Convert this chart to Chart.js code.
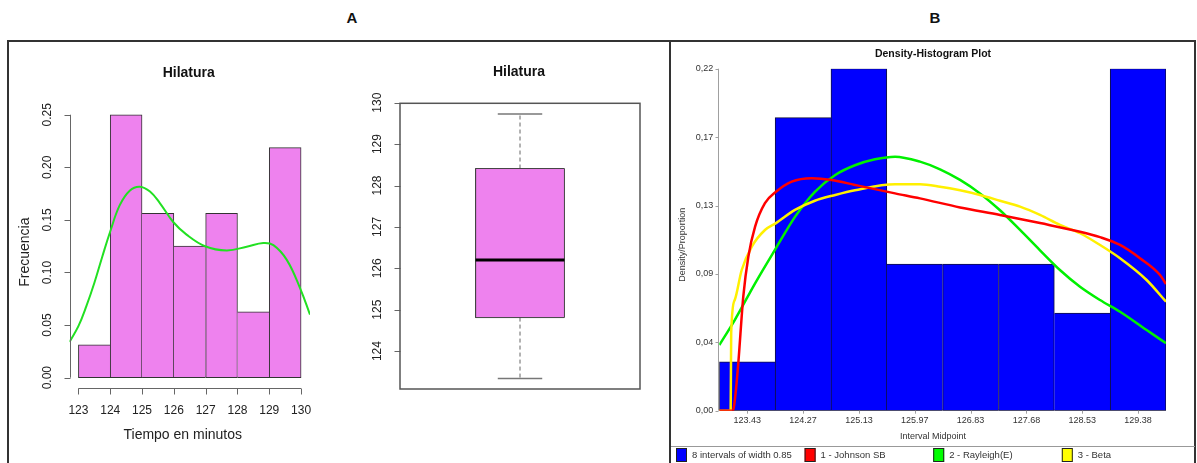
<!DOCTYPE html>
<html>
<head>
<meta charset="utf-8">
<script src="https://cdn.jsdelivr.net/npm/chart.js@4.4.0/dist/chart.umd.min.js"></script>
<style>
  body { margin: 0; background: #fff; width: 1197px; height: 463px; overflow: hidden; position: relative; font-family: "Liberation Sans", Arial, sans-serif; }
  .lbl { position: absolute; top: 9px; width: 40px; text-align: center; font: bold 15px "Liberation Sans", Arial, sans-serif; color: #111; }
  #frame { position: absolute; left: 7px; top: 40px; width: 1189px; height: 440px; border: 2px solid #333; box-sizing: border-box; }
  #split { position: absolute; left: 669px; top: 40px; width: 2px; height: 430px; background: #333; }
  canvas { position: absolute; }
</style>
</head>
<body>
<div class="lbl" style="left:332px">A</div>
<div class="lbl" style="left:915px">B</div>
<div id="frame"></div>
<div id="split"></div>
<canvas id="hist" width="320" height="417" style="left:10px;top:43px"></canvas>
<canvas id="box" width="338" height="417" style="left:331px;top:43px"></canvas>
<canvas id="dens" width="524" height="420" style="left:671px;top:43px"></canvas>
<script>
// --- panel A, histogram ---
const histBreaks = [123, 124, 125, 126, 127, 128, 129, 130];
const histFreq = [0.03125, 0.25, 0.15625, 0.125, 0.15625, 0.0625, 0.21875];
const densX = [122.72, 123.0, 123.25, 123.5, 123.75, 124.0, 124.3, 124.62, 124.93, 125.25, 125.56, 125.98, 126.4, 126.98, 127.66, 128.29, 128.81, 129.13, 129.55, 129.97, 130.28];
const densY = [0.034, 0.049, 0.068, 0.09, 0.115, 0.139, 0.164, 0.178, 0.1816, 0.177, 0.166, 0.148, 0.136, 0.125, 0.121, 0.1245, 0.128, 0.126, 0.112, 0.085, 0.06];
const freqTicks = [0, 0.05, 0.10, 0.15, 0.20, 0.25];
const freqLabels = ['0.00', '0.05', '0.10', '0.15', '0.20', '0.25'];

// --- panel A, boxplot: min, q1, median, q3, max ---
const boxStats = [123.34, 124.81, 126.2, 128.41, 129.73];
const boxTicks = [124, 125, 126, 127, 128, 129, 130];

// --- panel B ---
const mids = [123.43, 124.28, 125.13, 125.98, 126.83, 127.68, 128.53, 129.38];
const midLabels = ['123.43', '124.27', '125.13', '125.97', '126.83', '127.68', '128.53', '129.38'];
const binWidth = 0.85;
const props = [0.03125, 0.1875, 0.21875, 0.09375, 0.09375, 0.09375, 0.0625, 0.21875];
const propTicks = [0, 0.04375, 0.0875, 0.13125, 0.175, 0.21875];
const propLabels = ['0,00', '0,04', '0,09', '0,13', '0,17', '0,22'];
const johnsonX = [123.005, 123.21, 123.25, 123.294, 123.37, 123.447, 123.55, 123.70, 123.868, 124.107, 124.41, 124.716, 125.07, 125.68, 126.06, 126.67, 127.278, 127.887, 128.496, 128.8, 129.105, 129.409, 129.714, 129.805];
const johnsonY = [0, 0, 0.01, 0.0303, 0.073, 0.0985, 0.1177, 0.1327, 0.140, 0.1465, 0.1487, 0.1476, 0.1444, 0.139, 0.1358, 0.130, 0.1252, 0.120, 0.1145, 0.111, 0.106, 0.0975, 0.0868, 0.081];
const rayleighX = [123.005, 123.24, 123.55, 123.868, 124.157, 124.46, 124.77, 125.07, 125.375, 125.68, 126.06, 126.365, 126.67, 126.973, 127.278, 127.583, 127.887, 128.19, 128.496, 128.8, 129.105, 129.51, 129.805];
const rayleighY = [0.042, 0.058, 0.0815, 0.104, 0.124, 0.140, 0.1508, 0.157, 0.1608, 0.1625, 0.1593, 0.1544, 0.1476, 0.139, 0.1282, 0.1156, 0.1026, 0.090, 0.0793, 0.0708, 0.0633, 0.0516, 0.0431];
const betaX = [123.005, 123.178, 123.186, 123.24, 123.346, 123.5, 123.70, 123.868, 124.157, 124.46, 124.77, 125.07, 125.68, 126.06, 126.365, 126.67, 126.973, 127.278, 127.583, 127.887, 128.19, 128.496, 128.8, 129.105, 129.51, 129.805];
const betaY = [0, 0, 0.0495, 0.0708, 0.090, 0.105, 0.1156, 0.120, 0.1284, 0.1343, 0.138, 0.141, 0.1448, 0.1448, 0.1433, 0.141, 0.138, 0.1343, 0.1305, 0.1252, 0.1188, 0.1135, 0.106, 0.0975, 0.0836, 0.0697];

const FONT = '"Liberation Sans", Arial, sans-serif';
const pts = (xs, ys) => xs.map((x, i) => ({x: x, y: ys[i]}));
// R pads each axis range by 4%
const rRange = (lo, hi) => [lo - 0.04 * (hi - lo), hi + 0.04 * (hi - lo)];

// only one border line between neighbouring bars
function histBorder(c) {
  const d = c.dataset.data, i = c.dataIndex, h = d[i].y;
  const prev = i > 0 ? d[i - 1].y : -1;
  const next = i < d.length - 1 ? d[i + 1].y : -1;
  return {top: 1, bottom: 1, left: prev <= h ? 1 : 0, right: next < h ? 1 : 0};
}

function vText(ctx, txt, x, y) {
  ctx.save();
  ctx.translate(x, y);
  ctx.rotate(-Math.PI / 2);
  ctx.fillText(txt, 0, 0);
  ctx.restore();
}

// axes drawn the way R base graphics does them
const rAxes = {
  id: 'rAxes',
  afterDatasetsDraw(chart, args, o) {
    const {ctx, chartArea: a, scales: {x, y}} = chart;
    ctx.save();
    ctx.strokeStyle = '#666';
    ctx.lineWidth = 1;
    ctx.fillStyle = '#222';
    ctx.textAlign = 'center';
    ctx.textBaseline = 'middle';
    ctx.font = '12px ' + FONT;

    const lx = Math.round(a.left) + 0.5;
    ctx.beginPath();
    if (!o.frame) {
      ctx.moveTo(lx, y.getPixelForValue(o.yTicks[0]));
      ctx.lineTo(lx, y.getPixelForValue(o.yTicks[o.yTicks.length - 1]));
    }
    o.yTicks.forEach(v => {
      const py = Math.round(y.getPixelForValue(v)) + 0.5;
      ctx.moveTo(lx, py);
      ctx.lineTo(lx - 6, py);
    });
    ctx.stroke();
    o.yTicks.forEach((v, i) => vText(ctx, o.yLabels[i], a.left - 22, y.getPixelForValue(v)));

    if (o.xTicks) {
      const by = Math.round(a.bottom) + 0.5;
      ctx.beginPath();
      ctx.moveTo(x.getPixelForValue(o.xTicks[0]), by);
      ctx.lineTo(x.getPixelForValue(o.xTicks[o.xTicks.length - 1]), by);
      o.xTicks.forEach(v => {
        const px = Math.round(x.getPixelForValue(v)) + 0.5;
        ctx.moveTo(px, by);
        ctx.lineTo(px, by + 6);
      });
      ctx.stroke();
      o.xTicks.forEach(v => ctx.fillText(String(v), x.getPixelForValue(v), a.bottom + 22));
    }
    if (o.frame) {
      ctx.strokeStyle = '#555';
      ctx.lineWidth = 1.5;
      ctx.strokeRect(a.left, a.top, a.right - a.left, a.bottom - a.top);
    }

    ctx.font = '14px ' + FONT;
    if (o.xTitle) ctx.fillText(o.xTitle, (a.left + a.right) / 2 - 7, a.bottom + 47);
    if (o.yTitle) vText(ctx, o.yTitle, a.left - 44.5, (a.top + a.bottom) / 2 + 6);
    ctx.font = 'bold 14px ' + FONT;
    ctx.fillStyle = '#111';
    ctx.fillText(o.title, (a.left + a.right) / 2 - 1, a.top - 31);
    ctx.restore();
  }
};

const histX = rRange(histBreaks[0], histBreaks[histBreaks.length - 1]);
const histY = rRange(0, freqTicks[freqTicks.length - 1]);

new Chart(document.getElementById('hist'), {
  type: 'bar',
  data: {
    datasets: [{
      type: 'line',
      data: pts(densX, densY),
      borderColor: '#22e022',
      borderWidth: 2,
      pointRadius: 0,
      tension: 0.4,
      order: 0
    }, {
      data: histFreq.map((f, i) => ({x: (histBreaks[i] + histBreaks[i + 1]) / 2, y: f})),
      backgroundColor: '#EE82EE',
      borderColor: '#333',
      borderWidth: histBorder,
      borderSkipped: false,
      barPercentage: 1,
      categoryPercentage: 1,
      order: 1
    }]
  },
  options: {
    responsive: false,
    animation: false,
    layout: {padding: {left: 59.5, top: 61.2, right: 20, bottom: 71.8}},
    scales: {
      x: {type: 'linear', display: false, offset: false, min: histX[0], max: histX[1],
          afterBuildTicks: s => { s.ticks = histBreaks.map(v => ({value: v})); }},
      y: {type: 'linear', display: false, min: histY[0], max: histY[1]}
    },
    plugins: {
      legend: {display: false},
      tooltip: {enabled: false},
      rAxes: {title: 'Hilatura', xTitle: 'Tiempo en minutos', yTitle: 'Frecuencia',
              xTicks: histBreaks, yTicks: freqTicks, yLabels: freqLabels}
    }
  },
  plugins: [rAxes]
});

// boxplot from line pieces
const [bMin, bQ1, bMed, bQ3, bMax] = boxStats;
const boxY = rRange(bMin, bMax);
const boxXr = rRange(0.5, 1.5);
const seg = (x0, y0, x1, y1) => [{x: x0, y: y0}, {x: x1, y: y1}];
const plain = {pointRadius: 0, fill: false, tension: 0};

new Chart(document.getElementById('box'), {
  type: 'line',
  data: {
    datasets: [
      Object.assign({data: seg(0.8, bMed, 1.2, bMed), borderColor: '#000', borderWidth: 3}, plain),
      Object.assign({data: [{x: 0.8, y: bQ1}, {x: 1.2, y: bQ1}, {x: 1.2, y: bQ3}, {x: 0.8, y: bQ3}, {x: 0.8, y: bQ1}],
                     borderColor: '#444', borderWidth: 1}, plain),
      Object.assign({data: seg(0.9, bMax, 1.1, bMax), borderColor: '#777', borderWidth: 1.5}, plain),
      Object.assign({data: seg(0.9, bMin, 1.1, bMin), borderColor: '#777', borderWidth: 1.5}, plain),
      Object.assign({data: seg(1, bQ3, 1, bMax), borderColor: '#666', borderWidth: 1, borderDash: [4, 3]}, plain),
      Object.assign({data: seg(1, bQ1, 1, bMin), borderColor: '#666', borderWidth: 1, borderDash: [4, 3]}, plain),
      Object.assign({data: seg(0.8, bQ1, 1.2, bQ1), borderWidth: 0}, plain),
      {data: seg(0.8, bQ3, 1.2, bQ3), borderWidth: 0, pointRadius: 0, tension: 0, fill: '-1', backgroundColor: '#EE82EE'}
    ]
  },
  options: {
    responsive: false,
    animation: false,
    layout: {padding: {left: 69, top: 60.3, right: 29, bottom: 71}},
    scales: {
      x: {type: 'linear', display: false, min: boxXr[0], max: boxXr[1]},
      y: {type: 'linear', display: false, min: boxY[0], max: boxY[1]}
    },
    plugins: {
      legend: {display: false},
      tooltip: {enabled: false},
      rAxes: {title: 'Hilatura', frame: true, yTicks: boxTicks, yLabels: boxTicks.map(String)}
    }
  },
  plugins: [rAxes]
});

// panel B axes, titles and legend
const densAxes = {
  id: 'densAxes',
  afterDatasetsDraw(chart) {
    const {ctx, chartArea: a, scales: {x, y}, width} = chart;
    ctx.save();
    ctx.strokeStyle = '#a0a0a0';
    ctx.lineWidth = 1;
    const lx = Math.round(a.left) - 0.5;
    ctx.beginPath();
    ctx.moveTo(lx, a.top);
    ctx.lineTo(lx, a.bottom);
    propTicks.forEach(v => {
      const py = Math.round(y.getPixelForValue(v)) + 0.5;
      ctx.moveTo(lx - 3, py);
      ctx.lineTo(lx, py);
    });
    mids.forEach(v => {
      const px = Math.round(x.getPixelForValue(v)) + 0.5;
      ctx.moveTo(px, a.bottom);
      ctx.lineTo(px, a.bottom + 3);
    });
    ctx.stroke();

    ctx.fillStyle = '#333';
    ctx.font = '9px ' + FONT;
    ctx.textBaseline = 'middle';
    ctx.textAlign = 'right';
    propTicks.forEach((v, i) => ctx.fillText(propLabels[i], a.left - 6, y.getPixelForValue(v)));
    ctx.textAlign = 'center';
    mids.forEach((v, i) => ctx.fillText(midLabels[i], x.getPixelForValue(v), a.bottom + 10));
    ctx.fillText('Interval Midpoint', width / 2, a.bottom + 26);
    vText(ctx, 'Density/Proportion', 12, (a.top + a.bottom) / 2 + 5);
    ctx.font = 'bold 10.5px ' + FONT;
    ctx.fillStyle = '#111';
    ctx.fillText('Density-Histogram Plot', width / 2, 11);

    // legend strip
    ctx.strokeStyle = '#999';
    ctx.beginPath();
    ctx.moveTo(0, 403.5);
    ctx.lineTo(width, 403.5);
    ctx.stroke();
    ctx.font = '9.5px ' + FONT;
    ctx.textAlign = 'left';
    chart.data.datasets.forEach((ds, i) => {
      const lx0 = 5 + i * 128.6;
      ctx.fillStyle = ds.legendColor;
      ctx.fillRect(lx0, 405, 11, 14);
      ctx.strokeStyle = '#222';
      ctx.strokeRect(lx0 + 0.5, 405.5, 10, 13);
      ctx.fillStyle = '#333';
      ctx.fillText(ds.label, lx0 + 16, 412.5);
    });
    ctx.restore();
  }
};

const curve = {type: 'line', pointRadius: 0, borderWidth: 2.5, fill: false, cubicInterpolationMode: 'monotone'};

new Chart(document.getElementById('dens'), {
  type: 'bar',
  data: {
    datasets: [{
      label: mids.length + ' intervals of width ' + binWidth,
      legendColor: '#0000FF',
      data: pts(mids, props),
      backgroundColor: '#0000FF',
      borderColor: '#101040',
      borderWidth: histBorder,
      borderSkipped: false,
      barPercentage: 1,
      categoryPercentage: 1,
      order: 4
    },
    Object.assign({label: '1 - Johnson SB', legendColor: '#FF0000', data: pts(johnsonX, johnsonY), borderColor: '#FF0000', order: 1}, curve),
    Object.assign({label: '2 - Rayleigh(E)', legendColor: '#00FF00', data: pts(rayleighX, rayleighY), borderColor: '#00F000', order: 3}, curve),
    Object.assign({label: '3 - Beta', legendColor: '#FFFF00', data: pts(betaX, betaY), borderColor: '#FFF000', order: 2}, curve)]
  },
  options: {
    responsive: false,
    animation: false,
    layout: {padding: {left: 48.3, top: 25.7, right: 29, bottom: 52.3}},
    scales: {
      x: {type: 'linear', display: false, offset: false,
          min: mids[0] - binWidth / 2, max: mids[mids.length - 1] + binWidth / 2,
          afterBuildTicks: s => { s.ticks = mids.map(v => ({value: v})); }},
      y: {type: 'linear', display: false, min: 0, max: propTicks[propTicks.length - 1]}
    },
    plugins: {legend: {display: false}, tooltip: {enabled: false}}
  },
  plugins: [densAxes]
});
</script>
</body>
</html>
